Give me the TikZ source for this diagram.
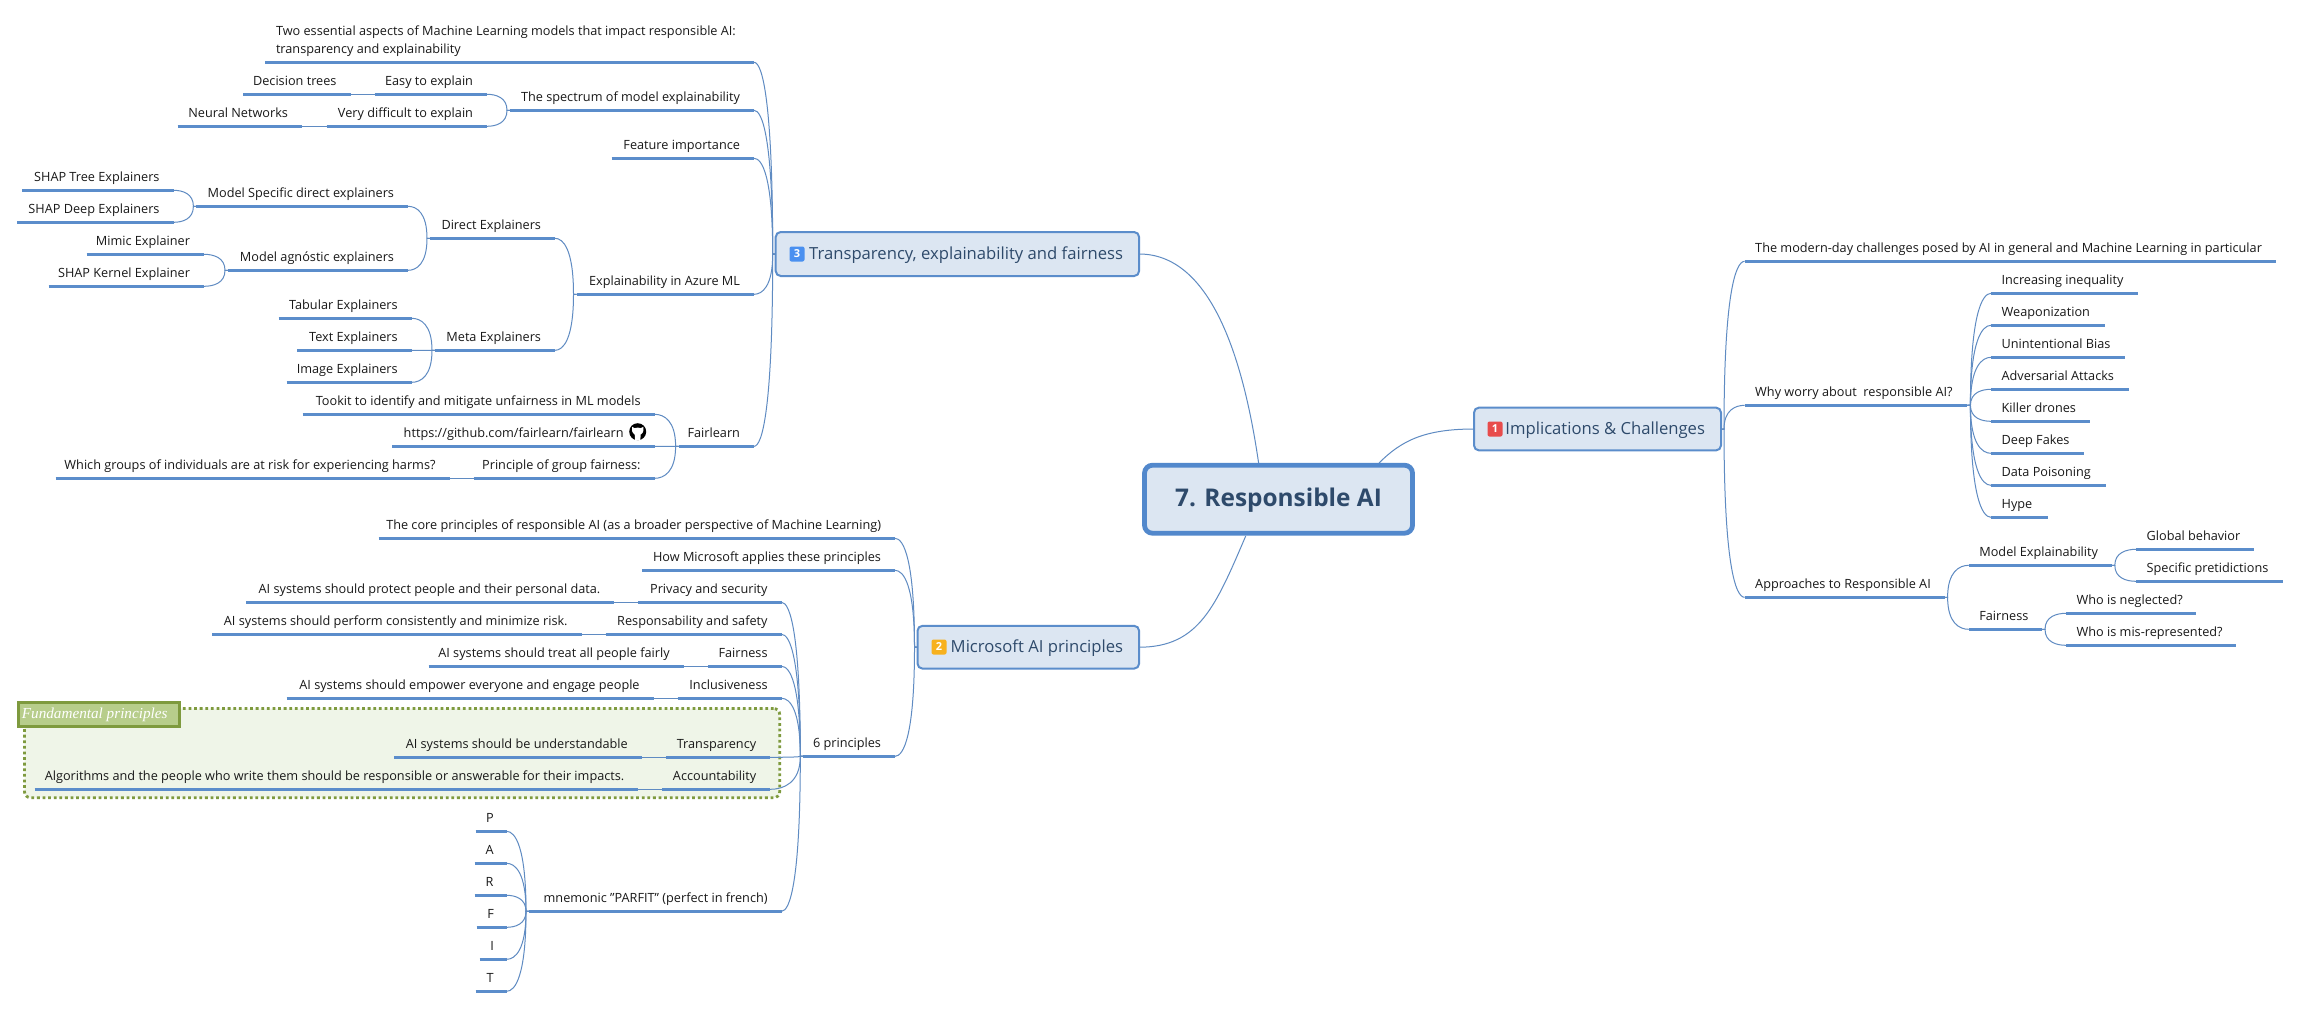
\documentclass[tikz,border=0pt]{standalone}
\usepackage{fontspec}
\setmainfont{Open Sans}
\newfontfamily\labelserif{Liberation Serif}
\usetikzlibrary{calc}
\definecolor{barblue}{HTML}{5B8DCB}
\definecolor{connblue}{HTML}{5F8BC2}
\definecolor{boxfill}{HTML}{DCE6F2}
\definecolor{boxtext}{HTML}{2E4A6B}
\definecolor{rootborder}{HTML}{5288CC}
\definecolor{fundfill}{HTML}{EFF5E8}
\definecolor{funddot}{HTML}{7E9A3E}
\definecolor{fundlabel}{HTML}{B7CD8B}
\definecolor{badgeblue}{HTML}{4A90F0}
\definecolor{badgeorange}{HTML}{F7B11E}
\definecolor{badgered}{HTML}{E84C4C}
\tikzset{
  mmitem/.style={inner xsep=0pt,inner ysep=4.5pt,outer sep=0pt,font=\fontsize{6.35pt}{9pt}\selectfont,text=black!90},
  bar/.style={barblue,line width=1.6pt},
  conn/.style={connblue,line width=0.5pt},
  mainbox/.style={draw=barblue,fill=boxfill,line width=1pt,rounded corners=2.5pt,inner sep=0pt,outer sep=0pt,text=boxtext,font=\fontsize{8.33pt}{10pt}\selectfont},
  rootbox/.style={draw=rootborder,fill=boxfill,line width=2.4pt,rounded corners=4pt,inner sep=0pt,outer sep=0pt,text=boxtext,font=\fontsize{12.2pt}{15pt}\selectfont\bfseries},
  badge/.style={rounded corners=1pt,minimum size=7.5pt,inner sep=0pt,outer sep=0pt,text=white,font=\fontsize{5.5pt}{6pt}\selectfont\bfseries},
  fundbox/.style={draw=funddot,fill=fundfill,line width=1.4pt,dash pattern=on 1.4pt off 1.4pt,rounded corners=3pt,inner sep=0pt,outer sep=0pt},
  fundtag/.style={draw=funddot,fill=fundlabel,line width=1.4pt,inner sep=0pt,outer sep=0pt,text=white,font=\labelserif\itshape\fontsize{7.6pt}{9pt}\selectfont},
}
% core item: text above a thick bar that is the node's lower edge
\newcommand\mmnode[5]{%
  \pgfmathsetlengthmacro\mmw{(#3-#2)*0.5}%
  \node[mmitem,anchor=south west] (#1) at (#2,#4) {\hbox to \mmw{#5}};
  \draw[bar] (#1.south west) -- (#1.south east);
}
\newcommand\mmtext[1]{\raisebox{0pt}[7pt][0pt]{#1}}
\newcommand\itemR[5]{\mmnode{#1}{#2}{#3}{#4}{\hss\mmtext{#5}\kern7pt}}
\newcommand\itemL[5]{\mmnode{#1}{#2}{#3}{#4}{\kern5.3pt\mmtext{#5}\hss}}
\newcommand\itemC[5]{\mmnode{#1}{#2}{#3}{#4}{\hss\mmtext{#5}\kern1pt\hss}}
\newcommand\lowered[1]{\raisebox{-0.5pt}[\height][\depth]{#1}}
% curved link: parent anchor, child anchor, horizontal stub
\newcommand\cn[3]{%
  \draw[conn] let \p1=#1,\p2=#2 in (\p1) -- ({\x1+(#3)},\y1)
   .. controls ({\x1+(#3)},{\y1*0.2+\y2*0.8}) and ({(\x1+(#3))*0.45+\x2*0.55},\y2) .. (\p2);
}
\newcommand\cnl[2]{\cn{(#1.south west)}{(#2.south east)}{-1.5pt}}
\newcommand\cnr[2]{\cn{(#1.south east)}{(#2.south west)}{1.5pt}}
\newcommand\joinl[2]{\draw[conn] (#1.south west) -- (#2.south east);}
\begin{document}
\begin{tikzpicture}[x=0.5pt,y=-0.5pt]
\useasboundingbox (0,0) rectangle (2300,1008);
\fill[white] (0,0) rectangle (2300,1008);

% fundamental principles boundary
\node[fundbox,minimum width=377.6pt,minimum height=44.6pt,anchor=north west] (fund) at (24.5,708.5) {};

% root and main topics
\node[rootbox,minimum width=134pt,minimum height=34pt] (root) at (1278.5,499.2) {\lowered{7. Responsible AI}};
\coordinate (rootA) at (1258.6,463);
\coordinate (rootB) at (1245.7,536);
\coordinate (rootC) at (1379,463);

\node[mainbox,minimum width=181.7pt,minimum height=22pt,anchor=north west] (mthree) at (775.7,232)
  {\hbox to 181.7pt{\hss\lowered{Transparency, explainability and fairness}\kern8pt}};
\node[badge,fill=badgeblue] (bthree) at (797,254) {3};
\node[mainbox,minimum width=110.8pt,minimum height=21.4pt,anchor=north west] (mtwo) at (917.5,625.8)
  {\hbox to 110.8pt{\hss\lowered{Microsoft AI principles}\kern8pt}};
\node[badge,fill=badgeorange] (btwo) at (939,647) {2};
\node[mainbox,minimum width=123.5pt,minimum height=21.4pt,anchor=north west] (mone) at (1474,407.6)
  {\hbox to 123.5pt{\hss\lowered{Implications \& Challenges}\kern8pt}};
\node[badge,fill=badgered] (bone) at (1495,429) {1};

\draw[conn] (mthree.east) .. controls +(70,0) and +(-16,-110) .. (rootA);
\draw[conn] (mtwo.east) .. controls +(60,0) and +(-30,70) .. (rootB);
\draw[conn] (mone.west) .. controls +(-50,0) and +(22,-22) .. (rootC);

% ---------- 3 Transparency
\pgfmathsetlengthmacro\mmw{(754-265)*0.5}
\node[mmitem,anchor=south west] (aa) at (265,62.3) {\hbox to \mmw{\kern5.5pt\raisebox{0pt}[16pt][0pt]{\vbox{\baselineskip=9pt\hbox{Two essential aspects of Machine Learning models that impact responsible AI:}\hbox{transparency and explainability}}}\hss}};
\draw[bar] (aa.south west) -- (aa.south east);
\itemR{ab}{510}{754}{110.3}{The spectrum of model explainability}
\itemR{ab1}{374.5}{487}{94.3}{Easy to explain}
\itemR{ab1a}{243.4}{350.5}{94.3}{Decision trees}
\itemR{ab2}{326.5}{487}{126.3}{Very difficult to explain}
\itemR{ab2a}{177.5}{302}{126.3}{Neural Networks}
\itemR{ac}{611.7}{754}{158.3}{Feature importance}
\itemR{ad}{576.5}{754}{294.3}{Explainability in Azure ML}
\itemR{ad1}{430}{555}{238.3}{Direct Explainers}
\itemR{ad1a}{196.4}{408}{206.3}{Model Specific direct explainers}
\itemR{ad1ax}{22.4}{173.5}{190.3}{SHAP Tree Explainers}
\itemR{ad1ay}{17.3}{173.5}{222.3}{SHAP Deep Explainers}
\itemR{ad1b}{228}{408}{270.3}{Model agnóstic explainers}
\itemR{ad1bx}{86.7}{204}{254.3}{Mimic Explainer}
\itemR{ad1by}{48.5}{204}{286.3}{SHAP Kernel Explainer}
\itemR{ad2}{435}{555}{350.3}{Meta Explainers}
\itemR{ad2a}{278.6}{411.7}{318.3}{Tabular Explainers}
\itemR{ad2b}{297.4}{411.7}{350.3}{Text Explainers}
\itemR{ad2c}{286.7}{411.7}{382.3}{Image Explainers}
\itemR{ae}{678.6}{754}{446.3}{Fairlearn}
\itemR{ae1}{302.5}{654.6}{414.3}{Tookit to identify and mitigate unfairness in ML models}
\itemR{ae2}{392.3}{654.6}{446.3}{https://github.com/fairlearn/fairlearn\kern8.5pt}
\itemR{ae3}{473.5}{654.6}{478.3}{Principle of group fairness:}
\itemR{ae3a}{55.6}{449.5}{478.3}{Which groups of individuals are at risk for experiencing harms?}

% github mark
\begin{scope}[shift={(637.7,431.7)}]
  \fill[black] (0,0) circle (8.5);
  \fill[white] (-5.6,-4.8) -- (-3,-3.6) .. controls (-1,-4.3) and (1,-4.3) .. (3,-3.6) -- (5.6,-4.8)
     .. controls (6,-2) and (6,1) .. (3,2.8) -- (2.6,8.4) -- (-2.6,8.4) -- (-3,2.8) .. controls (-6,1) and (-6,-2) .. cycle;
\end{scope}

\foreach \c in {aa,ab,ac,ad,ae}{\cn{(mthree.west)}{(\c.south east)}{-1.5pt}}
\cnl{ab}{ab1} \cnl{ab}{ab2} \joinl{ab1}{ab1a} \joinl{ab2}{ab2a}
\cnl{ad}{ad1} \cnl{ad}{ad2}
\cnl{ad1}{ad1a} \cnl{ad1}{ad1b}
\cnl{ad1a}{ad1ax} \cnl{ad1a}{ad1ay}
\cnl{ad1b}{ad1bx} \cnl{ad1b}{ad1by}
\cnl{ad2}{ad2a} \cnl{ad2}{ad2b} \cnl{ad2}{ad2c}
\cnl{ae}{ae1} \cnl{ae}{ae2} \cnl{ae}{ae3} \joinl{ae3}{ae3a}

% ---------- 2 Microsoft
\itemR{ba}{378.6}{895}{538.3}{The core principles of responsible AI (as a broader perspective of Machine Learning)}
\itemR{bb}{642.3}{895}{570.3}{How Microsoft applies these principles}
\itemR{bc}{803.3}{895}{756.3}{6 principles}
\itemR{bd}{529}{781.6}{911.3}{mnemonic "PARFIT" (perfect in french)}
\itemR{ca}{638}{781.6}{602.3}{Privacy and security}
\itemR{caa}{246.4}{614.3}{602.3}{AI systems should protect people and their personal data.}
\itemR{cb}{605.6}{781.6}{634.3}{Responsability and safety}
\itemR{cba}{212.2}{581.6}{634.3}{AI systems should perform consistently and minimize risk.}
\itemR{cc}{708}{781.6}{666.3}{Fairness}
\itemR{cca}{428.6}{683.7}{666.3}{AI systems should treat all people fairly}
\itemR{cd}{677.6}{781.6}{698.3}{Inclusiveness}
\itemR{cda}{286.7}{653.6}{698.3}{AI systems should empower everyone and engage people}
\itemR{ce}{666.3}{770.2}{757.3}{Transparency}
\itemR{cea}{394.4}{641.8}{757.3}{AI systems should be understandable}
\itemR{cf}{662.2}{770.2}{789.3}{Accountability}
\itemR{cfa}{34.7}{638.3}{789.3}{Algorithms and the people who write them should be responsible or answerable for their impacts.}
\itemC{pp}{475.5}{506.6}{831.3}{P}
\itemC{pa}{474.5}{506.6}{863.3}{A}
\itemC{pr}{474.5}{506.6}{895.3}{R}
\itemC{pf}{476.5}{506.6}{927.3}{F}
\itemC{pi}{479.6}{506.6}{959.3}{I}
\itemC{pt}{475.5}{506.6}{991.3}{T}

\foreach \c in {ba,bb,bc}{\cn{(mtwo.west)}{(\c.south east)}{-1.5pt}}
\foreach \c in {ca,cb,cc,cd,ce,cf,bd}{\cnl{bc}{\c}}
\joinl{ca}{caa} \joinl{cb}{cba} \joinl{cc}{cca} \joinl{cd}{cda} \joinl{ce}{cea} \joinl{cf}{cfa}
\foreach \c in {pp,pa,pr,pf,pi,pt}{\cnl{bd}{\c}}

\node[fundtag,minimum width=80.6pt,minimum height=11.9pt,anchor=north west] (fundt) at (18.5,702.5)
  {\hbox to 80.6pt{\kern1.7pt Fundamental principles\hss}};

% ---------- 1 Implications
\itemL{da}{1744.6}{2275.7}{261.3}{The modern-day challenges posed by AI in general and Machine Learning in particular}
\itemL{db}{1744.6}{1967.4}{405.3}{Why worry about\ \ responsible AI?}
\itemL{dc}{1744.6}{1944.6}{597.3}{Approaches to Responsible AI}
\itemL{e1}{1991}{2138}{293.3}{Increasing inequality}
\itemL{e2}{1991}{2104.8}{325.3}{Weaponization}
\itemL{e3}{1991}{2124.7}{357.3}{Unintentional Bias}
\itemL{e4}{1991}{2128.8}{389.3}{Adversarial Attacks}
\itemL{e5}{1991}{2089.8}{421.3}{Killer drones}
\itemL{e6}{1991}{2084}{453.3}{Deep Fakes}
\itemL{e7}{1991}{2106}{485.3}{Data Poisoning}
\itemL{e8}{1991}{2047.5}{517.3}{Hype}
\itemL{f1}{1968.7}{2111.8}{565.3}{Model Explainability}
\itemL{f1a}{2136}{2253.7}{549.3}{Global behavior}
\itemL{f1b}{2136}{2283}{581.3}{Specific pretidictions}
\itemL{f2}{1968.7}{2042}{629.3}{Fairness}
\itemL{f2a}{2066}{2195.6}{613.3}{Who is neglected?}
\itemL{f2b}{2066}{2236}{645.3}{Who is mis-represented?}

\foreach \c in {da,db,dc}{\cn{(mone.east)}{(\c.south west)}{1.5pt}}
\foreach \c in {e1,e2,e3,e4,e5,e6,e7,e8}{\cnr{db}{\c}}
\cnr{dc}{f1} \cnr{dc}{f2}
\cnr{f1}{f1a} \cnr{f1}{f1b}
\cnr{f2}{f2a} \cnr{f2}{f2b}
\end{tikzpicture}
\end{document}
